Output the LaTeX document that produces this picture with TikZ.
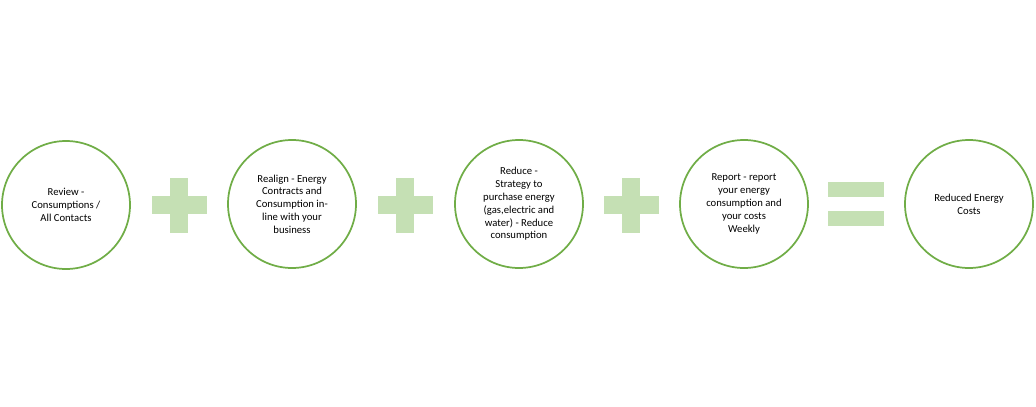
\documentclass[tikz,border=0pt]{standalone}
\usepackage{fontspec}
\setmainfont{Carlito}
\definecolor{ringgreen}{RGB}{112,173,71}
\definecolor{signgreen}{RGB}{197,224,180}
\tikzset{
  stage/.style={draw=ringgreen, line width=1.3pt, circle, minimum size=128*0.75pt,
    inner sep=0pt, align=center, font=\fontsize{8}{9.6}\selectfont},
  sign/.style={fill=signgreen, draw=none}
}
\newcommand{\plussign}[1]{%
  \fill[sign] ($(#1)+(-27.5,-9)$) rectangle ($(#1)+(27.5,9)$);
  \fill[sign] ($(#1)+(-9,-27.5)$) rectangle ($(#1)+(9,27.5)$);}
\usetikzlibrary{calc}
\begin{document}
\begin{tikzpicture}[x=0.75pt, y=-0.75pt]
    \useasboundingbox (0,0) rectangle (1036,407);
    % Stages
    \node[stage] (review) at (66,205) {Review -\\Consumptions /\\All Contacts};
    \node[stage] (realign) at (292,204) {Realign - Energy\\Contracts and\\Consumption in-\\line with your\\business};
    \node[stage] (reduce) at (519,204) {Reduce -\\Strategy to\\purchase energy\\(gas,electric and\\water) - Reduce\\consumption};
    \node[stage] (report) at (744,204) {Report - report\\your energy\\consumption and\\your costs\\Weekly};
    \node[stage] (result) at (969,204) {Reduced Energy\\Costs};
    % Signs
    \coordinate (p1) at (179,205);
    \coordinate (p2) at (405,205);
    \coordinate (p3) at (631,205);
    \plussign{p1}
    \plussign{p2}
    \plussign{p3}
    \coordinate (eq) at (856,204);
    \fill[sign] ($(eq)+(-28,-22)$) rectangle ($(eq)+(28,-7)$);
    \fill[sign] ($(eq)+(-28,7)$) rectangle ($(eq)+(28,22)$);
\end{tikzpicture}
\end{document}
